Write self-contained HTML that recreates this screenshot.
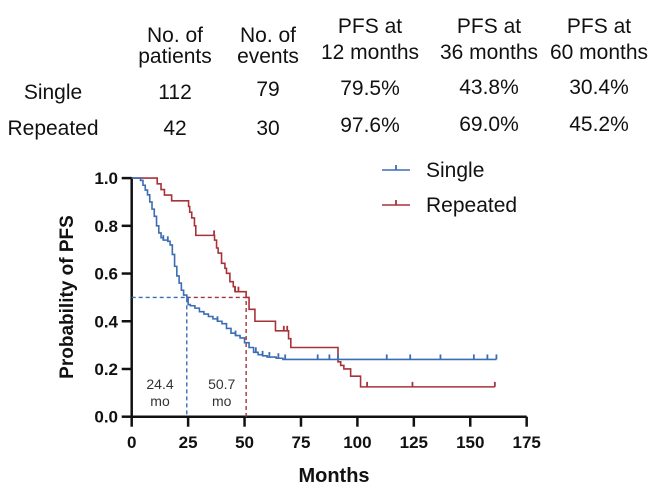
<!DOCTYPE html>
<html><head><meta charset="utf-8">
<style>
html,body{margin:0;padding:0;background:#fff;}
svg{display:block;font-family:"Liberation Sans",Arial,sans-serif;}
</style></head>
<body>
<svg id="chart" width="661" height="492" viewBox="0 0 661 492" xmlns="http://www.w3.org/2000/svg">
  <g id="table"></g>
  <g id="plot"></g>
</svg>
<script>
// ---- data ----
const tableCols = ["No. of|patients","No. of|events","PFS at|12 months","PFS at|36 months","PFS at|60 months"];
const tableRowLabels = ["Single","Repeated"];
const singleRow = ["112","79","79.5%","43.8%","30.4%"];
const repeatedRow = ["42","30","97.6%","69.0%","45.2%"];

const xTicks = [0,25,50,75,100,125,150,175];
const yTicks = [0,0.2,0.4,0.6,0.8,1.0];
const yTickLabels = ["0.0","0.2","0.4","0.6","0.8","1.0"];

const singleTimes = [0,3.9,5,6,7,8,9,10,11,12,13,14,16,17,18,19,20,21,22,23,24.4,25,26,28,30,32,34,36,38,40,42,44,46,48,50,52,54,56,58,60,64,67];
const singleSurv  = [1,0.99,0.97,0.95,0.93,0.90,0.87,0.84,0.80,0.77,0.75,0.74,0.735,0.72,0.68,0.63,0.59,0.56,0.53,0.51,0.50,0.47,0.465,0.455,0.44,0.43,0.42,0.41,0.40,0.39,0.37,0.35,0.34,0.33,0.31,0.29,0.27,0.26,0.255,0.25,0.245,0.24];
const singleCensT = [14,16,38,46,55,58,61,65,68,82.4,87.6,91.4,113,123.4,136.8,151.6,157.6,161.6];
const singleEnd = 161.6;

const repTimes = [0,11.3,13,14.5,17.7,25.2,25.7,26.6,27.8,28.4,36.7,37.6,38.3,39.8,41.3,42,43.5,45,45.8,50.7,52,54.6,63.7,69.5,70.5,91.4,92.6,94,97,101.4];
const repSurv  = [1,0.976,0.952,0.929,0.905,0.881,0.857,0.833,0.80,0.76,0.74,0.707,0.686,0.643,0.622,0.601,0.566,0.545,0.524,0.50,0.45,0.40,0.36,0.327,0.29,0.23,0.215,0.20,0.17,0.125];
const repCensT = [36.5,45.8,47.3,67.4,68.9,104.3,124.4,160.9];
const repEnd = 160.9;

const medians = [24.4,50.7];
const medianLabels = ["24.4","50.7"];

// ---- scales ----
const X0=131.7, XS=2.257, Y0=416.7, YS=238.6;
const sx = t => X0 + t*XS;
const sy = v => Y0 - v*YS;
const NS="http://www.w3.org/2000/svg";
const BLUE="#3b6db3", RED="#a8323a";

function mk(tag, attrs, parent){
  const e=document.createElementNS(NS,tag);
  for(const k in attrs) e.setAttribute(k,attrs[k]);
  parent.appendChild(e); return e;
}
function txt(parent,x,y,s,size,anchor,opts){
  opts=opts||{};
  const e=mk('text',{x:0,y:0,'font-size':size,'text-anchor':anchor,fill:opts.fill||'#111',
    'font-weight':opts.bold?'bold':'normal',
    transform:`translate(${x},${y}) scale(${opts.sx||1},1)`+(opts.rot?` rotate(${opts.rot})`:'')},parent);
  e.textContent=s; return e;
}
const table=document.getElementById('table');
const plot=document.getElementById('plot');

// ---- table ----
const colX=[175,268,370,489,599];
tableCols.forEach((c,i)=>{
  const [a,b]=c.split('|');
  const y1 = i<2 ? 42 : 33;
  const y2 = i<2 ? 63 : 59;
  const t1=txt(table,colX[i],y1,a,21,'middle');
  
  
  const t2=txt(table,colX[i],y2,b,21,'middle');
  
  
});
const rowY=[99,135];
tableRowLabels.forEach((r,j)=>{
  const t=txt(table,53,rowY[j],r,21,'middle');
  
  
});
[singleRow,repeatedRow].forEach((row,j)=>{
  row.forEach((v,i)=>{
    let dy = 0;
    if(i==1 && j==0) dy=-3;
    if(i==2) dy = j==0 ? -4 : -3;
    if(i>=3) dy = j==0 ? -5 : -4;
    const t=txt(table,colX[i],rowY[j]+dy,v,21,'middle');
    
    
  });
});

// ---- axes ----
const ax=mk('path',{d:`M${sx(0)},${sy(1)-1} V${Y0} H${sx(175)}`,fill:'none',stroke:'#111','stroke-width':2.5},plot);


xTicks.forEach(t=>{
  const l=mk('line',{x1:sx(t),x2:sx(t),y1:Y0,y2:Y0+10,stroke:'#111','stroke-width':2.5},plot);
  
  
  const lb=txt(plot,sx(t),448,String(t),17,'middle',{bold:true});
  
  
});
yTicks.forEach((v,i)=>{
  const l=mk('line',{x1:X0-10,x2:X0,y1:sy(v),y2:sy(v),stroke:'#111','stroke-width':2.5},plot);
  
  
  const lb=txt(plot,118,sy(v)+6,yTickLabels[i],17,'end',{bold:true});
  
  
});
const xt=txt(plot,334,482,'Months',20,'middle',{bold:true});


const yt=txt(plot,73,297,'Probability of PFS',19,'middle',{bold:true,rot:-90});



// ---- median dashed lines ----
const mb=mk('path',{d:`M${sx(0)},${sy(0.5)} H${sx(medians[0])} V${Y0}`,fill:'none',stroke:BLUE,'stroke-width':1.4,'stroke-dasharray':'4,3'},plot);


const mr=mk('path',{d:`M${sx(medians[0])},${sy(0.5)} H${sx(medians[1])} V${Y0}`,fill:'none',stroke:RED,'stroke-width':1.4,'stroke-dasharray':'4,3'},plot);


medians.forEach((m,i)=>{
  const cx = i==0 ? 160 : 221.7;
  const a=txt(plot,cx,389,medianLabels[i],14,'middle',{fill:'#333'});
  
  
  const b=txt(plot,cx,406,'mo',14,'middle',{fill:'#333'});
  
  
});

// ---- KM curves ----
function survAt(times,surv,t){let s=surv[0];for(let i=0;i<times.length;i++){if(times[i]<=t)s=surv[i];}return s;}
function drawKM(times,surv,cens,end,color,name){
  let d=`M${sx(times[0])},${sy(surv[0])}`;
  for(let i=1;i<times.length;i++){ d+=` H${sx(times[i])} V${sy(surv[i])}`; }
  d+=` H${sx(end)}`;
  const p=mk('path',{d:d,fill:'none',stroke:color,'stroke-width':1.6},plot);
  
  
  cens.forEach(t=>{
    const s=survAt(times,surv,t);
    const c=mk('line',{x1:sx(t),x2:sx(t),y1:sy(s),y2:sy(s)-5,stroke:color,'stroke-width':1.8},plot);
    
    
  });
}
drawKM(repTimes,repSurv,repCensT,repEnd,RED,'repeated');
drawKM(singleTimes,singleSurv,singleCensT,singleEnd,BLUE,'single');

// ---- legend ----
const lg=mk('g',{},plot);


[["Single",BLUE,170],["Repeated",RED,205]].forEach(([n,c,y])=>{
  const l=mk('line',{x1:382,x2:410,y1:y,y2:y,stroke:c,'stroke-width':1.6},lg);
  
  
  const tk=mk('line',{x1:396,x2:396,y1:y,y2:y-5,stroke:c,'stroke-width':1.8},lg);
  
  
  const t=txt(lg,426,y+7,n,21,'start');
  
  
});
</script>
</body></html>
